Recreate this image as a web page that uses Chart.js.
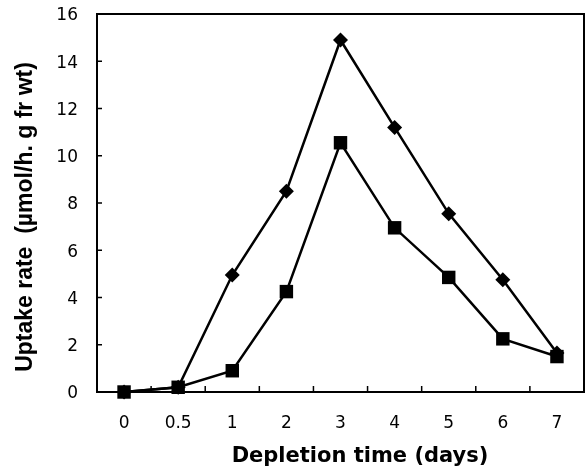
<!DOCTYPE html>
<html>
<head>
<meta charset="utf-8">
<script src="https://cdn.jsdelivr.net/npm/chart.js@4"></script>
<style>
  html, body { margin: 0; padding: 0; background: #fff; }
</style>
</head>
<body>
<canvas id="uptakeChart" width="585" height="471"></canvas>
<script>
const days = ['0', '0.5', '1', '2', '3', '4', '5', '6', '7'];
const diamondSeries = [0, 0.2, 4.95, 8.5, 14.9, 11.2, 7.55, 4.75, 1.65];
const squareSeries = [0, 0.2, 0.9, 4.25, 10.55, 6.95, 4.85, 2.25, 1.5];
const yMin = 0;
const yMax = 16;
const yStep = 2;
const xTitle = 'Depletion time (days)';
const yTitle = 'Uptake rate  (µmol/h. g fr wt)';

// box round the plot, inward tick marks and the two axis titles
const frame = {
  id: 'frame',
  beforeDatasetsDraw(chart) {
    const { ctx, chartArea: a, scales: { x, y } } = chart;
    ctx.save();
    ctx.strokeStyle = '#000';
    ctx.lineWidth = 2;
    ctx.strokeRect(a.left, a.top, a.right - a.left, a.bottom - a.top);
    ctx.lineWidth = 1.5;
    ctx.beginPath();
    for (let v = yMin + yStep; v < yMax; v += yStep) {
      const py = y.getPixelForValue(v);
      ctx.moveTo(a.left, py);
      ctx.lineTo(a.left + 5, py);
    }
    for (let i = 0; i < days.length - 1; i++) {
      const px = (x.getPixelForValue(i) + x.getPixelForValue(i + 1)) / 2;
      ctx.moveTo(px, a.bottom);
      ctx.lineTo(px, a.bottom - 6);
    }
    ctx.stroke();
    ctx.restore();
  },
  afterDraw(chart) {
    const ctx = chart.ctx;
    ctx.save();
    ctx.fillStyle = '#000';
    ctx.textAlign = 'center';
    ctx.textBaseline = 'alphabetic';
    ctx.font = 'bold 21px "DejaVu Sans"';
    ctx.fillText(xTitle, 360, 462);
    ctx.translate(32, 217);
    ctx.rotate(-Math.PI / 2);
    ctx.font = 'bold 23px "Liberation Sans"';
    ctx.fillText(yTitle, 0, 0);
    ctx.restore();
  }
};

const ctx = document.getElementById('uptakeChart').getContext('2d');

new Chart(ctx, {
  type: 'line',
  data: {
    labels: days,
    datasets: [
      {
        label: 'square',
        data: squareSeries,
        borderColor: '#000',
        backgroundColor: '#000',
        borderWidth: 2.5,
        pointStyle: 'rect',
        pointRadius: 9.5,
        pointBorderWidth: 0,
        tension: 0,
        clip: false,
      },
      {
        label: 'diamond',
        data: diamondSeries,
        borderColor: '#000',
        backgroundColor: '#000',
        borderWidth: 2.5,
        pointStyle: 'rectRot',
        pointRadius: 7.5,
        pointBorderWidth: 0,
        tension: 0,
        clip: false,
      },
    ],
  },
  options: {
    responsive: false,
    animation: false,
    layout: { autoPadding: false, padding: { top: 14, right: 1, left: 0, bottom: 0 } },
    plugins: {
      legend: { display: false },
      tooltip: { enabled: false },
    },
    scales: {
      x: {
        offset: true,
        grid: { display: false, drawTicks: false },
        border: { display: false },
        ticks: {
          color: '#000',
          padding: 21,
          font: { family: 'DejaVu Sans', size: 17 },
        },
        afterFit(scale) {
          scale.height = 79;
          scale.paddingLeft = 0;
          scale.paddingRight = 0;
        },
      },
      y: {
        min: yMin,
        max: yMax,
        grid: { display: false, drawTicks: false },
        border: { display: false },
        ticks: {
          stepSize: yStep,
          color: '#000',
          padding: 19,
          labelOffset: 2,
          font: { family: 'DejaVu Sans', size: 17 },
        },
        afterFit(scale) {
          scale.width = 97;
          scale.paddingTop = 0;
          scale.paddingBottom = 0;
        },
      },
    },
  },
  plugins: [frame],
});
</script>
</body>
</html>
